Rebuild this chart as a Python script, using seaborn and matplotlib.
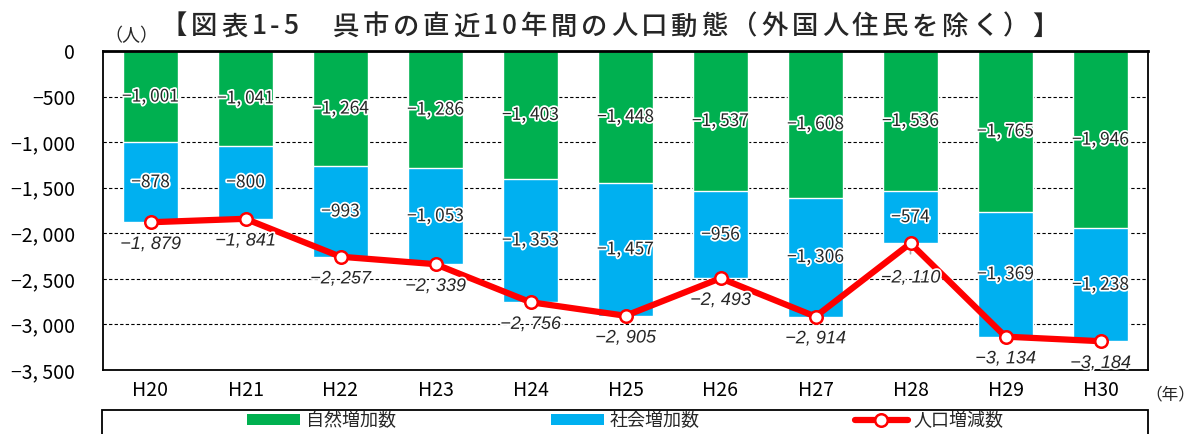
import numpy as np
import pandas as pd
import matplotlib
matplotlib.use("Agg")
import matplotlib.pyplot as plt
import matplotlib.patheffects as pe
from matplotlib.patches import Patch, Rectangle
from matplotlib.lines import Line2D
from matplotlib.ticker import FuncFormatter, MultipleLocator
import seaborn as sns

# data
years = ["H20", "H21", "H22", "H23", "H24", "H25", "H26", "H27", "H28", "H29", "H30"]
natural = [-1001, -1041, -1264, -1286, -1403, -1448, -1537, -1608, -1536, -1765, -1946]
social = [-878, -800, -993, -1053, -1353, -1457, -956, -1306, -574, -1369, -1238]
total = [-1879, -1841, -2257, -2339, -2756, -2905, -2493, -2914, -2110, -3134, -3184]
series_names = ["自然増加数", "社会増加数", "人口増減数"]
title = "【図表1-5　呉市の直近10年間の人口動態（外国人住民を除く）】"

GREEN = "#00B050"
BLUE = "#00B0F0"
RED = "#FF0000"

sns.set_style("white")
plt.rcParams["font.family"] = ["Noto Sans CJK JP", "DejaVu Sans"]

W, H = 1197, 434


def fmt(v):
    s = f"{abs(int(v)):,}".replace(",", ", ")
    return ("−" if v < 0 else "") + s


df = pd.DataFrame({"year": years, "natural": natural, "social": social, "total": total})
df["stack"] = df["natural"] + df["social"]

fig = plt.figure(figsize=(W / 100, H / 100), dpi=100)
ax = fig.add_axes([103 / W, 1 - 370 / H, 1045 / W, 319 / H])

# stacked bars: full stack in blue, natural part in green on top of it
sns.barplot(data=df, x="year", y="stack", color=BLUE, width=0.58,
            saturation=1, ax=ax, zorder=2)
sns.barplot(data=df, x="year", y="natural", color=GREEN, width=0.58,
            saturation=1, ax=ax, zorder=2)
sns.pointplot(data=df, x="year", y="total", color=RED, markers="o",
              errorbar=None, ax=ax, linewidth=4.5, markersize=9,
              markerfacecolor="white", markeredgecolor=RED,
              markeredgewidth=1.8, zorder=4)

ax.set_xlim(-0.5, len(years) - 0.5)
ax.set_ylim(-3500, 0)
ax.yaxis.set_major_locator(MultipleLocator(500))
ax.yaxis.set_major_formatter(FuncFormatter(lambda v, p: fmt(v) if v != 0 else "0"))
ax.set_xlabel("")
ax.set_ylabel("")
ax.tick_params(axis="both", length=0, labelsize=14, colors="black")
ax.tick_params(axis="x", pad=7)
ax.tick_params(axis="y", pad=20)

ax.set_axisbelow(True)
ax.yaxis.grid(True, color="black", linestyle=(0, (3, 2)), linewidth=0.8)
ax.xaxis.grid(False)
for side, sp in ax.spines.items():
    sp.set_visible(True)
    sp.set_color("black")
    sp.set_linewidth(1.3)
ax.spines["top"].set_linewidth(2)

halo = [pe.withStroke(linewidth=2.5, foreground="white")]

for i, (n, s, t) in enumerate(zip(natural, social, total)):
    ax.text(i, n / 2, fmt(n), ha="center", va="center", fontsize=12.5,
            path_effects=halo, zorder=6)
    ax.text(i, n + s / 2, fmt(s), ha="center", va="center", fontsize=12.5,
            path_effects=halo, zorder=6)
    if i == 8:
        ax.annotate(fmt(t), (i, t), xytext=(0, -25), textcoords="offset points",
                    ha="center", va="center", fontsize=13, style="italic",
                    family=["Liberation Sans"], path_effects=halo, zorder=6,
                    arrowprops=dict(arrowstyle="-", color="#A6A6A6", lw=1.2,
                                    shrinkA=9, shrinkB=6))
    else:
        ax.annotate(fmt(t), (i, t), xytext=(0, -16), textcoords="offset points",
                    ha="center", va="center", fontsize=13, style="italic",
                    family=["Liberation Sans"], path_effects=halo, zorder=6)

# unit labels
fig.text(104 / W, 1 - 36 / H, "（人）", fontsize=13, va="center", ha="left")
fig.text(1145 / W, 1 - 395 / H, "（年）", fontsize=12, va="center", ha="left")

# title with letter spacing
renderer = fig.canvas.get_renderer()
tsize = 19
widths = []
for ch in title:
    if ch == "　":
        widths.append(tsize * 100 / 72)
        continue
    tmp = fig.text(0, 0, ch, fontsize=tsize, fontweight="medium")
    widths.append(tmp.get_window_extent(renderer).width)
    tmp.remove()
target = 898
track = (target - sum(widths)) / (len(title) - 1)
x = 610 - target / 2
for ch, w in zip(title, widths):
    fig.text(x / W, 1 - 27 / H, ch, fontsize=tsize, fontweight="medium",
             ha="left", va="center")
    x += w + track

# legend
handles = [
    Patch(facecolor=GREEN, edgecolor="none"),
    Patch(facecolor=BLUE, edgecolor="none"),
    Line2D([], [], color=RED, lw=4.5, marker="o", ms=9, mfc="white",
           mec=RED, mew=1.8),
]
fig.legend(handles, series_names, loc="upper left",
           bbox_to_anchor=(240 / W, 1 - 405 / H), ncol=3, frameon=False,
           fontsize=13, handlelength=2.9, handleheight=0.55,
           handletextpad=0.35, columnspacing=8.6, borderaxespad=0)
fig.patches.append(Rectangle((102 / W, -0.2), 1046 / W, 0.2 + 1 - 410 / H,
                             transform=fig.transFigure, fill=False,
                             edgecolor="black", lw=1.3))

fig.savefig("out.png", dpi=100)
